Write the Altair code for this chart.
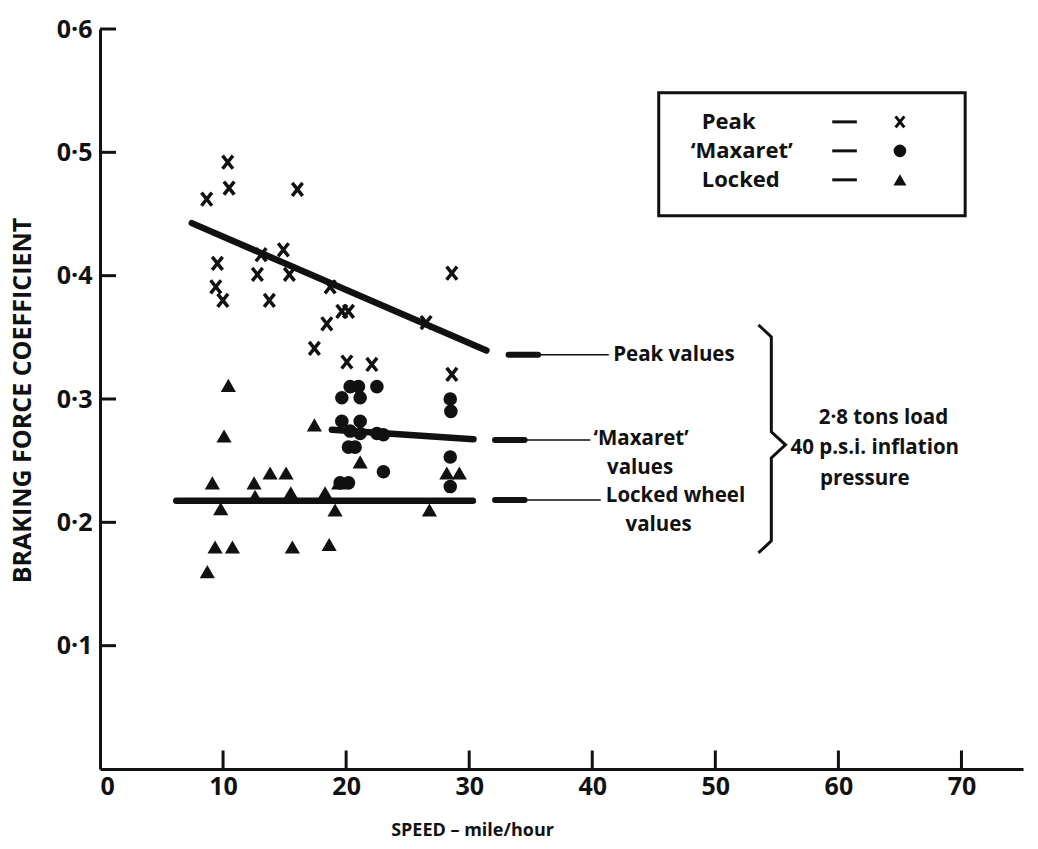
import altair as alt
import pandas as pd

# ---------------- data ----------------
peak_x = [10.38, 10.49, 8.67, 16.04, 14.9, 13.09, 9.54, 12.79, 15.39, 9.41, 9.98,
          13.76, 18.7, 28.59, 19.65, 20.19, 18.43, 26.5, 17.42, 20.06, 22.09, 28.59]
peak_y = [0.492, 0.471, 0.462, 0.470, 0.421, 0.417, 0.410, 0.401, 0.401, 0.391, 0.380,
          0.380, 0.391, 0.402, 0.371, 0.371, 0.361, 0.362, 0.341, 0.330, 0.328, 0.320]

max_x = [20.33, 21.0, 22.5, 19.65, 21.14, 28.46, 28.51, 19.65, 21.14, 20.33, 21.14,
         22.5, 23.03, 20.19, 20.73, 28.46, 23.03, 19.51, 20.19, 28.46]
max_y = [0.310, 0.310, 0.310, 0.301, 0.301, 0.300, 0.290, 0.282, 0.282, 0.274, 0.272,
         0.272, 0.271, 0.261, 0.261, 0.253, 0.241, 0.232, 0.232, 0.229]

lock_x = [10.43, 10.08, 17.42, 21.14, 13.82, 15.12, 9.13, 12.52, 28.18, 29.2, 12.6,
          9.81, 15.5, 18.29, 19.1, 26.77, 9.35, 10.76, 15.63, 18.62, 8.72, 19.4]
lock_y = [0.311, 0.270, 0.279, 0.249, 0.240, 0.240, 0.232, 0.232, 0.240, 0.240, 0.221,
          0.211, 0.224, 0.224, 0.210, 0.210, 0.180, 0.180, 0.180, 0.182, 0.160, 0.232]

# fitted lines: start x, start y, end x, end y
fit_x1 = [7.46, 18.84, 6.2]
fit_y1 = [0.4426, 0.275, 0.2174]
fit_x2 = [31.4, 30.35, 30.3]
fit_y2 = [0.3393, 0.2674, 0.2174]

x_ticks = [10, 20, 30, 40, 50, 60, 70]
y_ticks = [0.1, 0.2, 0.3, 0.4, 0.5, 0.6]

# annotation texts and anchors (data units)
ann_text = ["Peak  values", "\u2018Maxaret\u2019", "values", "Locked wheel", "values",
            "2\u00b78 tons  load", "40 p.s.i. inflation", "pressure"]
ann_x = [41.7, 40.1, 41.2, 41.1, 42.7, 58.4, 56.1, 58.5]
ann_y = [0.3358, 0.2676, 0.2441, 0.2214, 0.1979, 0.2847, 0.2603, 0.2352]

# arrows: thick head + thin shaft
arr_x1 = [33.2, 35.6, 32.1, 34.5, 32.1, 34.5]
arr_x2 = [35.6, 41.3, 34.5, 39.8, 34.5, 40.65]
arr_y = [0.3358, 0.3358, 0.2668, 0.2668, 0.2182, 0.2182]
arr_w = [6, 1.5, 6, 1.5, 6, 1.5]

# brace
brace_x = [53.5, 54.55, 54.55, 55.7, 54.55, 54.55, 53.5]
brace_y = [0.3601, 0.3504, 0.2733, 0.2628, 0.2522, 0.1849, 0.1752]

# legend
leg_labels = ["Peak", "\u2018Maxaret\u2019", "Locked"]
leg_text_x = [48.9, 48.0, 48.9]
leg_y = [0.5247, 0.5012, 0.4777]
leg_dash_x1 = 59.5
leg_dash_x2 = 61.5
leg_sym_x = 65.0
leg_box = [45.4, 70.3, 0.4485, 0.5483]

# ---------------- chart ----------------
FONT = "Open Sans"
INK = "#111111"

xscale = alt.Scale(domain=[0, 75], nice=False, zero=False)
yscale = alt.Scale(domain=[0, 0.6], nice=False, zero=False)

xaxis = alt.Axis(values=[0, 10, 20, 30, 40, 50, 60, 70], ticks=False, grid=False,
                 domainColor=INK, domainWidth=3, labelFont=FONT, labelFontSize=25,
                 labelFontWeight="bold", labelColor=INK, labelPadding=5, format="d",
                 title="SPEED \u2013 mile/hour", titleFont=FONT, titleFontSize=18,
                 titleFontWeight="bold", titleColor=INK, titleX=372, titleY=61,
                 titleAlign="center", titleBaseline="middle")
yaxis = alt.Axis(values=y_ticks, ticks=False, grid=False, domainColor=INK, domainWidth=3,
                 labelFont=FONT, labelFontSize=25, labelFontWeight="bold", labelColor=INK,
                 labelPadding=8,
                 labelExpr="replace(format(datum.value, '.1f'), '.', '\u00b7')",
                 title="BRAKING FORCE COEFFICIENT", titleFont=FONT, titleFontSize=25,
                 titleFontWeight="bold", titleColor=INK, titleAngle=270, titleX=-78,
                 titleY=371, titleAlign="center", titleBaseline="middle")


def X(f="x"):
    return alt.X(f"{f}:Q", scale=xscale, axis=xaxis)


def Y(f="y"):
    return alt.Y(f"{f}:Q", scale=yscale, axis=yaxis)


peak_df = pd.DataFrame({"x": peak_x, "y": peak_y})
max_df = pd.DataFrame({"x": max_x, "y": max_y})
lock_df = pd.DataFrame({"x": lock_x, "y": lock_y})
fit_df = pd.DataFrame({"x": fit_x1, "y": fit_y1, "x2": fit_x2, "y2": fit_y2})
xt_df = pd.DataFrame({"x": x_ticks, "y": [0] * len(x_ticks), "y2": [0.015] * len(x_ticks)})
yt_df = pd.DataFrame({"y": y_ticks, "x": [0] * len(y_ticks), "x2": [1.3] * len(y_ticks)})
ann_df = pd.DataFrame({"t": ann_text, "x": ann_x, "y": ann_y})
arr_df = pd.DataFrame({"x": arr_x1, "x2": arr_x2, "y": arr_y, "w": arr_w})
brace_df = pd.DataFrame({"x": brace_x, "y": brace_y, "o": list(range(len(brace_x)))})
leg_df = pd.DataFrame({"t": leg_labels, "x": leg_text_x, "y": leg_y,
                       "dx1": [leg_dash_x1] * 3, "dx2": [leg_dash_x2] * 3,
                       "sx": [leg_sym_x] * 3})
box_df = pd.DataFrame({"x": [leg_box[0]], "x2": [leg_box[1]],
                       "y": [leg_box[2]], "y2": [leg_box[3]]})

XSHAPE = "M -0.8 -1 L 0.8 1 M -0.8 1 L 0.8 -1"

xticks_l = alt.Chart(xt_df).mark_rule(color=INK, strokeWidth=3).encode(
    x=X(), y=Y(), y2="y2:Q")
yticks_l = alt.Chart(yt_df).mark_rule(color=INK, strokeWidth=3).encode(
    x=X(), x2="x2:Q", y=Y())

fit_l = alt.Chart(fit_df).mark_rule(color=INK, strokeWidth=6.5, strokeCap="round").encode(
    x=X(), x2="x2:Q", y=Y(), y2="y2:Q")

peak_l = alt.Chart(peak_df).mark_point(shape=XSHAPE, filled=False, strokeWidth=3.5,
                                       size=170, color=INK, opacity=1).encode(x=X(), y=Y())
max_l = alt.Chart(max_df).mark_point(shape="circle", filled=True, size=185, color=INK,
                                     opacity=1).encode(x=X(), y=Y())
lock_l = alt.Chart(lock_df).mark_point(shape="triangle-up", filled=True, size=230,
                                       color=INK, opacity=1).encode(x=X(), y=Y())

arr_l = alt.Chart(arr_df).mark_rule(color=INK, strokeCap="round").encode(
    x=X(), x2="x2:Q", y=Y(), strokeWidth=alt.StrokeWidth("w:Q", scale=None))

brace_l = alt.Chart(brace_df).mark_line(color=INK, strokeWidth=3).encode(
    x=X(), y=Y(), order="o:Q")

ann_l = alt.Chart(ann_df).mark_text(font=FONT, fontSize=20.5, fontWeight="bold", color=INK,
                                    align="left", baseline="middle").encode(
    x=X(), y=Y(), text="t:N")

box_l = alt.Chart(box_df).mark_rect(fill="white", stroke=INK, strokeWidth=3).encode(
    x=X(), x2="x2:Q", y=Y(), y2="y2:Q")
leg_text_l = alt.Chart(leg_df).mark_text(font=FONT, fontSize=22, fontWeight="bold",
                                         color=INK, align="left", baseline="middle").encode(
    x=X(), y=Y(), text="t:N")
leg_dash_l = alt.Chart(leg_df).mark_rule(color=INK, strokeWidth=3).encode(
    x=X("dx1"), x2="dx2:Q", y=Y())
leg_peak = alt.Chart(leg_df.iloc[[0]]).mark_point(shape=XSHAPE, filled=False, strokeWidth=3,
                                                  size=120, color=INK, opacity=1).encode(
    x=X("sx"), y=Y())
leg_max = alt.Chart(leg_df.iloc[[1]]).mark_point(shape="circle", filled=True, size=160,
                                                 color=INK, opacity=1).encode(
    x=X("sx"), y=Y())
leg_lock = alt.Chart(leg_df.iloc[[2]]).mark_point(shape="triangle-up", filled=True,
                                                  size=170, color=INK, opacity=1).encode(
    x=X("sx"), y=Y())

chart = alt.layer(
    xticks_l, yticks_l, fit_l, lock_l, max_l, peak_l, arr_l, brace_l, ann_l,
    box_l, leg_text_l, leg_dash_l, leg_peak, leg_max, leg_lock
).properties(
    width=923, height=740,
    autosize=alt.AutoSizeParams(type="none"),
    padding={"left": 100, "top": 29, "right": 15, "bottom": 80},
    background="white",
).configure_view(stroke=None)

chart.save("out.html", embed_options={"renderer": "svg", "actions": False})
